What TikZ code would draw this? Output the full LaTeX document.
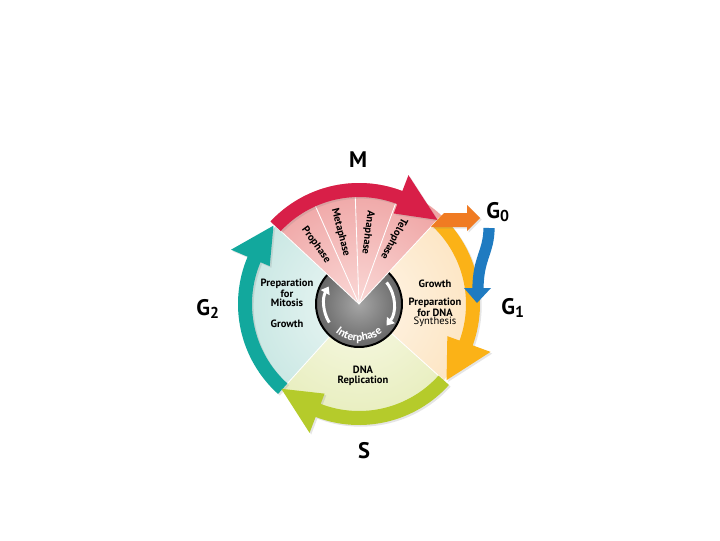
\documentclass[tikz,border=0pt]{standalone}
\usepackage{fontspec}
\setmainfont{PT Sans}
\usepackage{xcolor}
\usepackage{tikz}
\usetikzlibrary{arrows.meta, decorations.text, shadows}

\definecolor{mband}{HTML}{D81F48}
\definecolor{mpinkin}{HTML}{FAD8D6}
\definecolor{mpinkout}{HTML}{E67C7D}
\definecolor{gtwoband}{HTML}{12A89D}
\definecolor{gtwoin}{HTML}{EDF7F5}
\definecolor{gtwoout}{HTML}{A6D8D2}
\definecolor{sband}{HTML}{B5CB2B}
\definecolor{sin}{HTML}{F8F9E6}
\definecolor{sout}{HTML}{D8E398}
\definecolor{goneband}{HTML}{FBB217}
\definecolor{gonein}{HTML}{FEF5E8}
\definecolor{goneout}{HTML}{FCD6A0}
\definecolor{gzero}{HTML}{F07B22}
\definecolor{exitblue}{HTML}{1F7BC1}

\begin{document}
\begin{tikzpicture}[
    x=0.025cm, y=0.025cm,
    big/.style={font=\fontsize{16}{16}\selectfont\bfseries, inner sep=0pt},
    phase/.style={font=\fontsize{7.5}{8}\selectfont\bfseries, inner sep=0pt},
    info/.style={font=\fontsize{7.5}{7.5}\selectfont\bfseries, inner sep=0pt},
    divider/.style={white, line width=0.6pt},
    band/.style={fill=#1, drop shadow={shadow xshift=1.2pt, shadow yshift=-1.2pt, opacity=0.2}},
    inarrow/.style={white, line width=2.1pt, -{Triangle[length=5pt, width=7pt]}}
]

% frame
\fill[white] (-359,-236) rectangle (361,304);
\useasboundingbox (-359,-236) rectangle (361,304);

% G2 sector
\begin{scope}
  \clip (0,0) -- (137:114) arc[start angle=137, end angle=228, radius=114] -- cycle;
  \shade[inner color=gtwoin, outer color=gtwoout] (0,0) circle (228);
\end{scope}
% S sector
\begin{scope}
  \clip (0,0) -- (228:114) arc[start angle=228, end angle=318, radius=114] -- cycle;
  \shade[inner color=sin, outer color=sout] (0,0) circle (228);
\end{scope}
% G1 sector
\begin{scope}
  \clip (0,0) -- (318:114) arc[start angle=318, end angle=407, radius=114] -- cycle;
  \shade[inner color=gonein, outer color=goneout] (0,0) circle (228);
\end{scope}
\draw[divider] (0,0) -- (228:112);
\draw[divider] (0,0) -- (318:112);

% interphase disk
\begin{scope}
  \clip (0,0) circle (43);
  \shade[inner color=black!35, outer color=black!85] (0,0) circle (86);
\end{scope}
\draw[black, line width=1.4pt] (0,0) circle (43);
\draw[inarrow] (212:35) arc[start angle=212, end angle=150, radius=35];
\draw[inarrow] (38:35) arc[start angle=38, end angle=-38, radius=35];
\path[decorate, decoration={text along path, text align=center, text color=white,
    text={|\fontsize{8}{8}\selectfont\bfseries|Interphase}}]
  (214:37) arc[start angle=214, end angle=326, radius=37];

% M wedge
\begin{scope}
  \clip (0,0) -- (47:121) arc[start angle=47, end angle=137, radius=121] -- cycle;
  \shade[inner color=mpinkin, outer color=mpinkout] (0,0) circle (214);
\end{scope}
\draw[divider] (137:118) -- (0,0) -- (47:118);
\foreach \a in {114, 92, 70}
  \draw[divider] (0,0) -- (\a:107);

\node[phase, rotate=-54] (pro) at (126:73) {Prophase};
\node[phase, rotate=-75.5] (meta) at (104.5:74) {Metaphase};
\node[phase, rotate=-97] (ana) at (83:72) {Anaphase};
\node[phase, rotate=-118] (telo) at (62:74) {Telophase};

% G2 band
\path[band=gtwoband] (228:121) arc[start angle=228, end angle=157, radius=121]
  -- (157:139) -- (137.5:116) -- (157:97) -- (157:107)
  arc[start angle=157, end angle=228, radius=107] -- cycle;
% S band
\path[band=sband] (318:121) arc[start angle=318, end angle=249, radius=121]
  -- (249:138) -- (227.5:115) -- (249:96) -- (249:107)
  arc[start angle=249, end angle=318, radius=107] -- cycle;
% G1 band
\path[band=goneband] (47:121) arc[start angle=47, end angle=-20, radius=121]
  -- (-20:140) -- (-41:116) -- (-20:94) -- (-20:107)
  arc[start angle=-20, end angle=47, radius=107] -- cycle;
% M band
\path[band=mband] (137:121) arc[start angle=137, end angle=69, radius=121]
  -- (69:138) -- (47:115) -- (69:97) -- (69:107)
  arc[start angle=69, end angle=137, radius=107] -- cycle;

% G0 exit
\path[band=gzero] (72,77) -- (85,91) -- (108,91) -- (108,99) -- (121,86)
  -- (108,73) -- (108,77) -- cycle;
\draw[exitblue, line width=0.28cm] (130,76) .. controls (130,52) and (119,46) .. (119,15);
\fill[exitblue] (105,16) -- (132,16) -- (118,1) -- cycle;

% inner texts
\node[info] (prepmit) at (-72,20) {Preparation};
\node[info] (formit) at (-72,10.5) {for};
\node[info] (mitosis) at (-72,1) {Mitosis};
\node[info] (growtwo) at (-72,-20) {Growth};
\node[info] (growone) at (76,20) {Growth};
\node[info] (prepdna) at (76,1) {Preparation};
\node[info] (fordna) at (76,-8.5) {for DNA};
\node[info, font=\fontsize{7.5}{7.5}\selectfont] (synth) at (76,-18) {Synthesis};
\node[info] (dna) at (4,-66) {DNA};
\node[info] (repl) at (4,-76.5) {Replication};

% phase labels
\node[big] (lblM) at (-1,144) {M};
\node[big] (lblGzero) at (139,92) {G\textsubscript{0}};
\node[big] (lblGone) at (154,-4) {G\textsubscript{1}};
\node[big] (lblGtwo) at (-151,-5) {G\textsubscript{2}};
\node[big] (lblS) at (5,-147) {S};

\end{tikzpicture}
\end{document}
